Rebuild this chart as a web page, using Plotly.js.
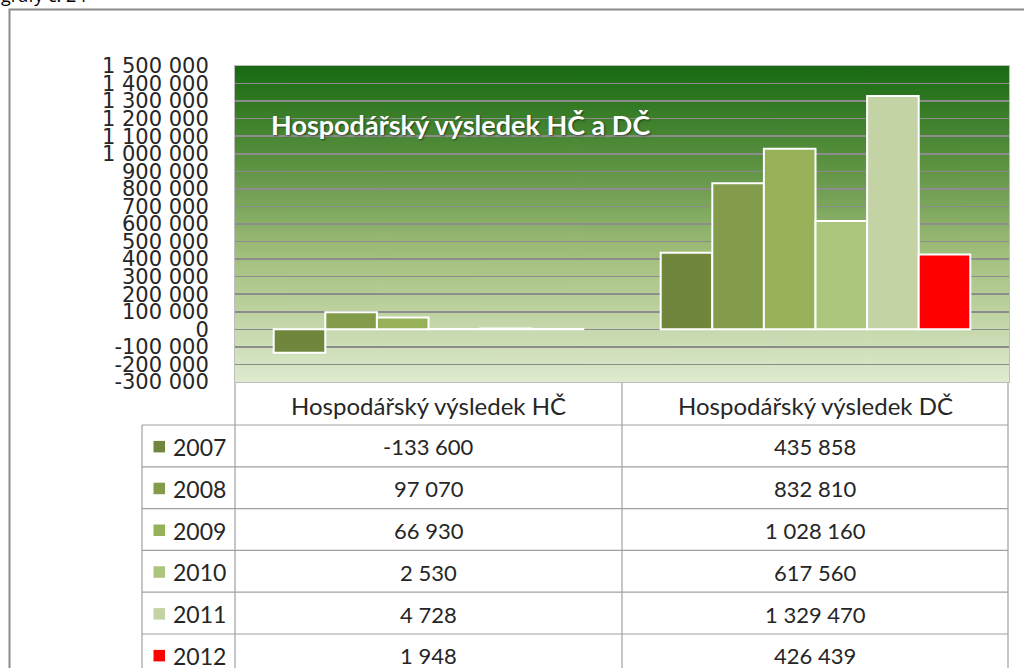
<!DOCTYPE html>
<html><head><meta charset="utf-8">
<script src="https://cdn.plot.ly/plotly-3.0.1.min.js"></script>
<style>html,body{margin:0;padding:0;overflow:hidden;background:#fff}#chart{width:1024px;height:700px}</style>
</head><body><div id="chart"></div><script>
const categories = ['Hospodářský výsledek HČ', 'Hospodářský výsledek DČ'];
const years = ['2007', '2008', '2009', '2010', '2011', '2012'];
const valuesHC = [-133600, 97070, 66930, 2530, 4728, 1948];
const valuesDC = [435858, 832810, 1028160, 617560, 1329470, 426439];
const yearColors = ['#71863d', '#829c4b', '#97b158', '#abc57d', '#c3d3a6', '#ff0000'];
const tickVals = [-300000, -200000, -100000, 0, 100000, 200000, 300000, 400000, 500000, 600000, 700000, 800000, 900000, 1000000, 1100000, 1200000, 1300000, 1400000, 1500000];
const tickLabels = ['-300 000', '-200 000', '-100 000', '0', '100 000', '200 000', '300 000', '400 000', '500 000', '600 000', '700 000', '800 000', '900 000', '1 000 000', '1 100 000', '1 200 000', '1 300 000', '1 400 000', '1 500 000'];
const chartTitle = 'Hospodářský výsledek HČ a DČ';
const pageCaption = 'grafy č. 24';

const W = 1024, H = 700;
const plotL = 235, plotR = 1009, plotT = 66, plotB = 382;
const px = v => v / W, py = v => 1 - v / H;

function fmt(n) {
  const s = Math.abs(n).toString().replace(/\B(?=(\d{3})+(?!\d))/g, ' ');
  return (n < 0 ? '-' : '') + s;
}

// gradient background image for the plot area
const cv = document.createElement('canvas');
cv.width = 8; cv.height = 316;
const ctx = cv.getContext('2d');
const g = ctx.createLinearGradient(0, 0, 0, 316);
g.addColorStop(0, '#186a12');
g.addColorStop(0.3, '#5a9040');
g.addColorStop(0.6, '#a2bf7c');
g.addColorStop(1, '#dfeacf');
ctx.fillStyle = g; ctx.fillRect(0, 0, 8, 316);
const gradURL = cv.toDataURL('image/png');

const traces = years.map((yr, i) => ({
  type: 'bar',
  name: yr,
  x: categories,
  y: [valuesHC[i], valuesDC[i]],
  marker: { color: yearColors[i], line: { color: '#ffffff', width: 2 } },
  showlegend: false,
  hoverinfo: 'skip'
}));

// data table geometry (layout only)
const tblL = 142, col1 = 235, col2 = 622, tblR = 1008;
const headTop = 383, headBot = 425, rowH = 41.8;
const lineCol = '#a0a0a0';
const shapes = [];
const annotations = [];

shapes.push({
  type: 'rect', xref: 'paper', yref: 'paper',
  x0: px(9.5), x1: px(1040), y0: py(9.5), y1: py(760),
  line: { color: '#8c8c8c', width: 2 }, fillcolor: 'rgba(0,0,0,0)', layer: 'below'
});

const tableBottom = headBot + rowH * years.length;
function hline(x0, x1, y) {
  shapes.push({ type: 'line', xref: 'paper', yref: 'paper', x0: px(x0), x1: px(x1), y0: py(y), y1: py(y), line: { color: lineCol, width: 1.2 } });
}
function vline(x, y0, y1) {
  shapes.push({ type: 'line', xref: 'paper', yref: 'paper', x0: px(x), x1: px(x), y0: py(y0), y1: py(y1), line: { color: lineCol, width: 1.2 } });
}
[col1, col2, tblR].forEach(x => vline(x, headTop, tableBottom));
vline(tblL, headBot, tableBottom);
for (let r = 0; r <= years.length; r++) hline(tblL, tblR, headBot + r * rowH);

const tfont = { family: 'Lato, sans-serif', size: 22, color: '#262626' };
categories.forEach((c, j) => {
  const cx = j === 0 ? (col1 + col2) / 2 : (col2 + tblR) / 2;
  annotations.push({ text: c, xref: 'paper', yref: 'paper', x: px(cx), y: py((headTop + headBot) / 2 + 1), xanchor: 'center', yanchor: 'middle', showarrow: false, font: { family: 'Lato, sans-serif', size: 24, color: '#262626' } });
});
years.forEach((yr, i) => {
  const cy = headBot + rowH * (i + 0.5) + 1;
  shapes.push({ type: 'rect', xref: 'paper', yref: 'paper', x0: px(153.5), x1: px(165), y0: py(cy - 6), y1: py(cy + 5.5), fillcolor: yearColors[i], line: { width: 0 } });
  annotations.push({ text: yr, xref: 'paper', yref: 'paper', x: px(171), y: py(cy), xanchor: 'left', yanchor: 'middle', showarrow: false, font: { family: 'Lato, sans-serif', size: 23, color: '#262626' } });
  annotations.push({ text: fmt(valuesHC[i]), xref: 'paper', yref: 'paper', x: px((col1 + col2) / 2), y: py(cy), xanchor: 'center', yanchor: 'middle', showarrow: false, font: tfont });
  annotations.push({ text: fmt(valuesDC[i]), xref: 'paper', yref: 'paper', x: px((col2 + tblR) / 2), y: py(cy), xanchor: 'center', yanchor: 'middle', showarrow: false, font: tfont });
});

annotations.push({
  text: pageCaption, xref: 'paper', yref: 'paper',
  x: px(-1), xanchor: 'left', y: py(-5), yanchor: 'middle', showarrow: false,
  font: { family: 'Open Sans, sans-serif', size: 18, color: '#000000' }
});

const layout = {
  width: W, height: H,
  margin: { l: 0, r: 0, t: 0, b: 0 },
  paper_bgcolor: '#ffffff',
  plot_bgcolor: 'rgba(0,0,0,0)',
  barmode: 'group',
  bargap: 0.2,
  bargroupgap: 0,
  title: {
    text: chartTitle,
    x: px(271), xanchor: 'left', xref: 'paper',
    y: py(126), yanchor: 'middle', yref: 'paper',
    font: { family: 'Lato, sans-serif', size: 27, color: '#ffffff', weight: 'bold', shadow: '1px 1px 2px rgba(0,0,0,0.5)' }
  },
  xaxis: {
    domain: [px(plotL), px(plotR)],
    showticklabels: false,
    ticks: '',
    showgrid: false,
    showline: true, mirror: true, linecolor: '#bdbdbd', linewidth: 1,
    zeroline: false,
    fixedrange: true
  },
  yaxis: {
    domain: [py(plotB), py(plotT)],
    range: [-300000, 1500000],
    tickmode: 'array',
    tickvals: tickVals,
    ticktext: tickLabels,
    ticks: '',
    ticklabelstandoff: 21,
    tickfont: { family: 'DejaVu Sans, sans-serif', size: 21, color: '#262626' },
    showgrid: true, gridcolor: '#8c8c8c', gridwidth: 1.5,
    zeroline: false,
    showline: true, mirror: true, linecolor: '#bdbdbd', linewidth: 1,
    fixedrange: true
  },
  images: [{
    source: gradURL, xref: 'paper', yref: 'paper',
    x: px(plotL), y: py(plotT), sizex: (plotR - plotL) / W, sizey: (plotB - plotT) / H,
    xanchor: 'left', yanchor: 'top', sizing: 'stretch', layer: 'below'
  }],
  shapes: shapes,
  annotations: annotations
};

Plotly.newPlot('chart', traces, layout, { staticPlot: true, displayModeBar: false });
</script></body></html>
